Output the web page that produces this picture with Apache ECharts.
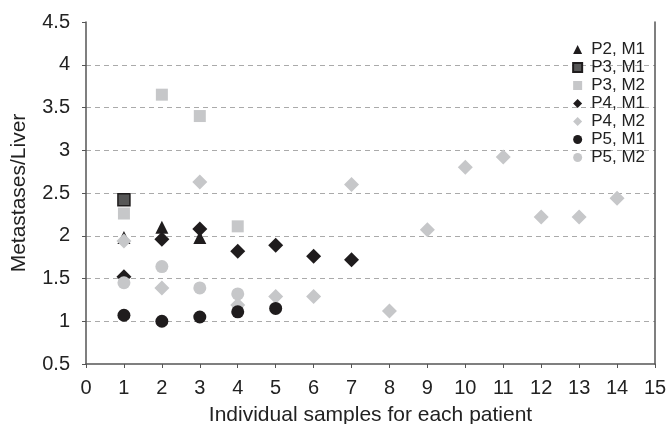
<!DOCTYPE html>
<html>
<head>
<meta charset="utf-8">
<script src="https://cdn.jsdelivr.net/npm/echarts@6/dist/echarts.min.js"></script>
<style>
  html, body { margin: 0; padding: 0; background: #fff; }
  #chart { width: 668px; height: 424px; }
</style>
</head>
<body>
<div id="chart"></div>
<script>
// values: [sample, ratio]
const p2m1 = [[1, 1.98], [2, 2.1], [3, 1.98]];
const p3m1 = [[1, 2.42]];
const p3m2 = [[1, 2.26], [2, 3.65], [3, 3.4], [4, 2.11]];
const p4m1 = [[1, 1.52], [2, 1.96], [3, 2.08], [4, 1.82], [5, 1.89], [6, 1.76], [7, 1.72]];
const p4m2 = [[1, 1.94], [2, 1.39], [3, 2.63], [4, 1.19], [5, 1.29], [6, 1.29], [7, 2.6],
              [8, 1.12], [9, 2.07], [10, 2.8], [11, 2.92], [12, 2.22], [13, 2.22], [14, 2.44]];
const p5m1 = [[1, 1.07], [2, 1.0], [3, 1.05], [4, 1.11], [5, 1.15]];
const p5m2 = [[1, 1.45], [2, 1.64], [3, 1.39], [4, 1.32]];

const DARK = '#1f1c1d';
const GREY = '#c6c7c9';
const FONT = 'Liberation Sans, Arial, sans-serif';

const seriesDefs = [
  { name: 'P2, M1', data: p2m1, symbol: 'triangle', color: DARK, size: 13 },
  { name: 'P3, M1', data: p3m1, symbol: 'rect', color: '#575757', size: 12, border: DARK },
  { name: 'P3, M2', data: p3m2, symbol: 'rect', color: GREY, size: 12 },
  { name: 'P4, M1', data: p4m1, symbol: 'diamond', color: DARK, size: 15 },
  { name: 'P4, M2', data: p4m2, symbol: 'diamond', color: GREY, size: 15 },
  { name: 'P5, M1', data: p5m1, symbol: 'circle', color: DARK, size: 13 },
  { name: 'P5, M2', data: p5m2, symbol: 'circle', color: GREY, size: 13 }
];

const chart = echarts.init(document.getElementById('chart'));

chart.setOption({
  animation: false,
  textStyle: { fontFamily: FONT },
  grid: { left: 86, right: 13, top: 22, bottom: 60, outerBoundsMode: 'none', containLabel: false },
  legend: {
    orient: 'vertical',
    right: 18,
    top: 36,
    itemWidth: 9,
    itemHeight: 9,
    itemGap: 1,
    textStyle: { fontFamily: FONT, fontSize: 17, color: '#222', padding: [0, 0, 0, 4] },
    data: seriesDefs.map(s => s.name)
  },
  xAxis: {
    type: 'value',
    min: 0,
    max: 15,
    interval: 1,
    name: 'Individual samples for each patient',
    nameLocation: 'middle',
    nameGap: 41,
    nameTextStyle: { fontFamily: FONT, fontSize: 21, color: '#222' },
    axisLine: { lineStyle: { color: '#555', width: 1.5 } },
    axisTick: { show: true, length: 4, lineStyle: { color: '#555' } },
    axisLabel: { fontFamily: FONT, fontSize: 20, color: '#222', margin: 14 },
    splitLine: { show: false }
  },
  yAxis: [
    {
      type: 'value',
      min: 0.5,
      max: 4.5,
      interval: 0.5,
      name: 'Metastases/Liver',
      nameLocation: 'middle',
      nameGap: 56,
      nameTextStyle: { fontFamily: FONT, fontSize: 21, color: '#222' },
      axisLine: { show: true, lineStyle: { color: '#555', width: 1.5 } },
      axisTick: { show: true, length: 4, lineStyle: { color: '#555' } },
      axisLabel: { fontFamily: FONT, fontSize: 20, color: '#222', margin: 16 },
      splitLine: {
        show: true,
        showMaxLine: false,
        showMinLine: false,
        lineStyle: { color: '#aaa', type: [5, 4], width: 1 }
      }
    },
    {
      type: 'value',
      position: 'right',
      min: 0.5,
      max: 4.5,
      interval: 0.5,
      axisLine: { show: true, onZero: false, lineStyle: { color: '#555', width: 1.5 } },
      axisTick: { show: false },
      axisLabel: { show: false },
      splitLine: { show: false }
    }
  ],
  series: seriesDefs.map(s => ({
    name: s.name,
    type: 'scatter',
    data: s.data,
    symbol: s.symbol,
    symbolSize: s.size,
    itemStyle: {
      color: s.color,
      opacity: 1,
      borderColor: s.border || s.color,
      borderWidth: s.border ? 1.5 : 0
    },
    emphasis: { disabled: true }
  }))
});
</script>
</body>
</html>
